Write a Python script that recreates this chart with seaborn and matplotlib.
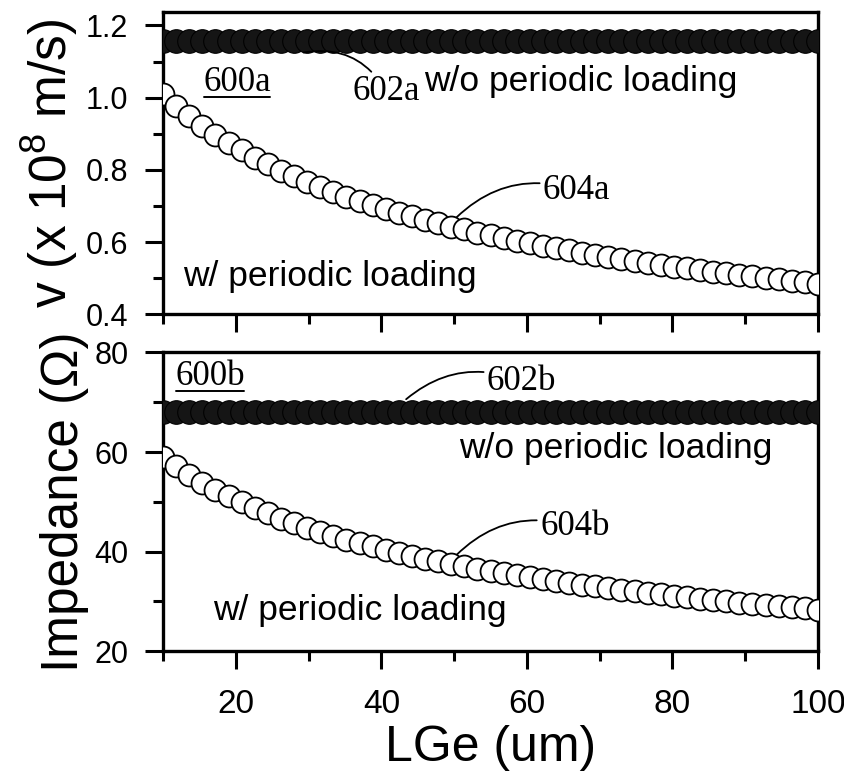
import numpy as np
import pandas as pd
import matplotlib
matplotlib.use('Agg')
import matplotlib.pyplot as plt
import seaborn as sns
from matplotlib.lines import Line2D
from matplotlib.ticker import MultipleLocator

# LGe (um) sample positions
lge = [10.0, 11.8, 13.6, 15.4, 17.2, 19.0, 20.8, 22.6, 24.4, 26.2, 28.0, 29.8,
       31.6, 33.4, 35.2, 37.0, 38.8, 40.6, 42.4, 44.2, 46.0, 47.8, 49.6, 51.4,
       53.2, 55.0, 56.8, 58.6, 60.4, 62.2, 64.0, 65.8, 67.6, 69.4, 71.2, 73.0,
       74.8, 76.6, 78.4, 80.2, 82.0, 83.8, 85.6, 87.4, 89.2, 91.0, 92.8, 94.6,
       96.4, 98.2, 100.0]

# velocity (x 1e8 m/s)
v_loaded = [1.010, 0.978, 0.949, 0.922, 0.897, 0.875, 0.854, 0.834, 0.816, 0.798,
            0.782, 0.767, 0.753, 0.739, 0.726, 0.714, 0.703, 0.692, 0.681, 0.671,
            0.661, 0.652, 0.643, 0.635, 0.626, 0.619, 0.611, 0.604, 0.597, 0.590,
            0.583, 0.577, 0.571, 0.565, 0.559, 0.553, 0.548, 0.543, 0.537, 0.532,
            0.528, 0.523, 0.518, 0.514, 0.509, 0.505, 0.501, 0.497, 0.493, 0.489,
            0.485]
v_unloaded = [1.156] * len(lge)

# impedance (ohm)
z_loaded = [59.0, 57.1, 55.4, 53.8, 52.4, 51.1, 49.9, 48.7, 47.7, 46.6,
            45.7, 44.8, 44.0, 43.2, 42.4, 41.7, 41.1, 40.4, 39.8, 39.2,
            38.6, 38.1, 37.6, 37.1, 36.6, 36.1, 35.7, 35.3, 34.9, 34.5,
            34.0, 33.7, 33.3, 33.0, 32.6, 32.3, 32.0, 31.7, 31.4, 31.1,
            30.8, 30.5, 30.3, 30.0, 29.7, 29.5, 29.3, 29.0, 28.8, 28.6,
            28.3]
z_unloaded = [68.0] * len(lge)

df = pd.DataFrame({'LGe': lge, 'v_load': v_loaded, 'v_noload': v_unloaded,
                   'z_load': z_loaded, 'z_noload': z_unloaded})

sns.set_style('ticks')
plt.rcParams['font.family'] = ['Liberation Sans', 'DejaVu Sans']
plt.rcParams['mathtext.fontset'] = 'custom'
plt.rcParams['mathtext.rm'] = 'Liberation Sans'
plt.rcParams['mathtext.it'] = 'Liberation Sans'
for key in ['text.color', 'axes.labelcolor', 'xtick.color', 'ytick.color', 'axes.edgecolor']:
    plt.rcParams[key] = 'black'

fig = plt.figure(figsize=(8.45, 7.78), dpi=100)
ax1 = fig.add_axes([0.193, 0.596, 0.775, 0.388])
ax2 = fig.add_axes([0.193, 0.163, 0.775, 0.384])

serif = ['Liberation Serif', 'DejaVu Serif']
leader = dict(arrowstyle='-', lw=1.3, color='black', shrinkA=0, shrinkB=0)

for ax, load, noload in [(ax1, 'v_load', 'v_noload'), (ax2, 'z_load', 'z_noload')]:
    # dense filled band (no periodic loading)
    sns.lineplot(data=df, x='LGe', y=noload, ax=ax, color='black', linewidth=13,
                 marker='o', markersize=17, markerfacecolor='#151515',
                 markeredgecolor='black', zorder=3)
    # open circles (with periodic loading)
    sns.scatterplot(data=df, x='LGe', y=load, ax=ax, s=250, marker='o',
                    facecolor='white', edgecolor='black', linewidth=1.3, zorder=4)
    ax.set_xlim(10, 100)
    ax.xaxis.set_major_locator(MultipleLocator(20))
    ax.xaxis.set_minor_locator(MultipleLocator(10))
    ax.tick_params(which='major', direction='out', length=13, width=2.2)
    ax.tick_params(which='minor', direction='out', length=7, width=2.2)
    ax.tick_params(axis='y', labelsize=22, pad=12)
    ax.tick_params(axis='x', labelsize=24, pad=14)
    for sp in ax.spines.values():
        sp.set_linewidth(2.4)
        sp.set_visible(True)
    ax.set_xlabel('')

ax1.set_ylim(0.4, 1.236)
ax1.set_yticks([0.4, 0.6, 0.8, 1.0, 1.2])
ax1.set_yticklabels(['0.4', '0.6', '0.8', '1.0', '1.2'])
ax1.yaxis.set_minor_locator(MultipleLocator(0.1))
ax1.tick_params(axis='x', labelbottom=False)
ax1.set_ylabel('v (x 10$^{8}$ m/s)', fontsize=37, labelpad=4)

ax2.set_ylim(20, 80)
ax2.yaxis.set_major_locator(MultipleLocator(20))
ax2.yaxis.set_minor_locator(MultipleLocator(10))
ax2.set_ylabel('Impedance (\u03a9)', fontsize=37, labelpad=4)
ax2.set_xlabel('LGe (um)', fontsize=36, labelpad=4)

# annotations, top panel
t1 = ax1.text(15.5, 1.043, '600a', fontsize=25, family=serif, va='center')
ax1.text(45.9, 1.046, 'w/o periodic loading', fontsize=25.5, va='center')
ax1.annotate('602a', xy=(29.3, 1.125), xytext=(36.0, 1.017), fontsize=25,
             family=serif, va='center', ha='left',
             arrowprops=dict(connectionstyle='arc3,rad=0.35', **leader))
ax1.annotate('604a', xy=(50.3, 0.668), xytext=(62.2, 0.744), fontsize=25,
             family=serif, va='center', ha='left',
             arrowprops=dict(connectionstyle='arc3,rad=0.3', **leader))
ax1.text(12.8, 0.506, 'w/ periodic loading', fontsize=25.5, va='center')

# annotations, bottom panel
t2 = ax2.text(11.7, 75.2, '600b', fontsize=25, family=serif, va='center')
ax2.annotate('602b', xy=(43.4, 70.6), xytext=(54.5, 74.2), fontsize=25,
             family=serif, va='center', ha='left',
             arrowprops=dict(connectionstyle='arc3,rad=0.3', **leader))
ax2.text(50.7, 60.8, 'w/o periodic loading', fontsize=25.5, va='center')
ax2.annotate('604b', xy=(50.3, 39.3), xytext=(61.8, 45.0), fontsize=25,
             family=serif, va='center', ha='left',
             arrowprops=dict(connectionstyle='arc3,rad=0.3', **leader))
ax2.text(16.9, 28.2, 'w/ periodic loading', fontsize=25.5, va='center')

# underline the panel labels
fig.canvas.draw()
for t in (t1, t2):
    bb = t.get_window_extent()
    fig.add_artist(Line2D([bb.x0 + 1, bb.x1 - 1], [bb.y0 + 2, bb.y0 + 2],
                          transform=None, color='black', lw=1.4))

fig.savefig('out.png', dpi=100)
